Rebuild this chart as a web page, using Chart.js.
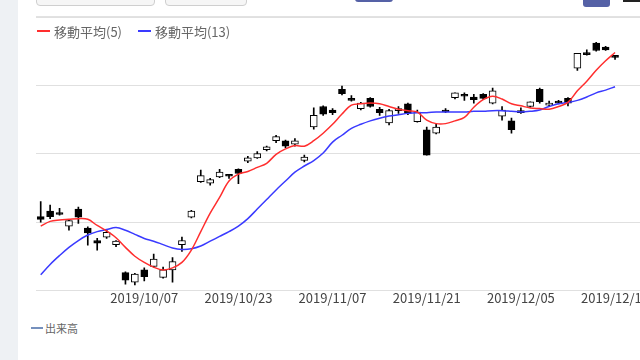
<!DOCTYPE html>
<html lang="ja">
<head>
<meta charset="utf-8">
<script src="https://cdn.jsdelivr.net/npm/chart.js@4.4.1/dist/chart.umd.min.js"></script>
<style>
  html, body { margin: 0; padding: 0; width: 640px; height: 360px; overflow: hidden; background: #fff;
               font-family: "Noto Sans CJK JP", "Noto Sans", sans-serif; }
  .side { position: absolute; left: 0; top: 0; width: 18px; height: 360px; background: #eef1f4; }
  .btn { position: absolute; top: -20px; height: 24px; border: 1px solid #cfcfcf; border-radius: 4px; background: #f6f6f6; }
  .btn-blue { position: absolute; top: -10px; border-radius: 3px; background: #5561a6; }
  .topline { position: absolute; left: 36px; top: 16px; width: 604px; height: 1px; background: #e2e2e2; }
  #wrap { position: absolute; left: 0; top: 0; width: 680px; height: 309px; }
  .legend { position: absolute; top: 20px; left: 37px; font-size: 13px; color: #666; white-space: nowrap; }
  .legend span { display: inline-block; vertical-align: middle; }
  .sw { width: 13px; height: 2px; margin-right: 4px; }
  .legend2 { position: absolute; top: 318px; left: 31px; font-size: 11px; color: #666; white-space: nowrap; }
  .legend2 span { display: inline-block; vertical-align: middle; }
</style>
</head>
<body>
<div class="side"></div>
<div class="btn" style="left:36px;width:117px"></div>
<div class="btn" style="left:165px;width:80px"></div>
<div class="btn-blue" style="left:355px;width:38px;height:12px"></div>
<div class="btn-blue" style="left:583px;width:27px;height:17px"></div>
<div style="position:absolute;left:623px;top:0;width:17px;height:2px;background:#222"></div>
<div class="topline"></div>
<div id="wrap"><canvas id="chart" width="680" height="309"></canvas></div>
<div class="legend">
  <span class="sw" style="background:#ff2e2e"></span><span>移動平均(5)</span>
  <span class="sw" style="background:#3a3aff;margin-left:13px"></span><span>移動平均(13)</span>
</div>
<div class="legend2"><span class="sw" style="background:#7590bd;width:12px;margin-right:2px"></span><span>出来高</span></div>
<script>
// trading days shown on the chart
const dates = [
  '2019/09/19','2019/09/20','2019/09/24','2019/09/25','2019/09/26','2019/09/27','2019/09/30',
  '2019/10/01','2019/10/02','2019/10/03','2019/10/04','2019/10/07','2019/10/08','2019/10/09',
  '2019/10/10','2019/10/11','2019/10/15','2019/10/16','2019/10/17','2019/10/18','2019/10/21',
  '2019/10/23','2019/10/24','2019/10/25','2019/10/28','2019/10/29','2019/10/30','2019/10/31',
  '2019/11/01','2019/11/05','2019/11/06','2019/11/07','2019/11/08','2019/11/11','2019/11/12',
  '2019/11/13','2019/11/14','2019/11/15','2019/11/18','2019/11/19','2019/11/20','2019/11/21',
  '2019/11/22','2019/11/25','2019/11/26','2019/11/27','2019/11/28','2019/11/29','2019/12/02',
  '2019/12/03','2019/12/04','2019/12/05','2019/12/06','2019/12/09','2019/12/10','2019/12/11',
  '2019/12/12','2019/12/13','2019/12/16','2019/12/17','2019/12/18','2019/12/19'
];
// dates written under the axis
const tickLabels = ['2019/10/07','2019/10/23','2019/11/07','2019/11/21','2019/12/05','2019/12/19'];

// OHLC
const opens  = [1108,1116,1111,1094,1119,1091,1073,1078,1067,1026,1012,1030,1035,1019,1030,1067,1107,1159,1157,1166,1167,
                1177,1189,1194,1206,1219,1219,1214,1190,1239,1269,1264,1294,1278,1266,1281,1265,1245,1263,1273,1247,
                1235,1230,1264,1282,1284,1283,1287,1274,1255,1248,1263,1269,1294,1271,1277,1281,1325,1345,1362,1356,1341];
const highs  = [1130,1125,1120,1103,1122,1093,1076,1089,1073,1027,1025,1033,1053,1034,1048,1078,1117,1176,1164,1177,1170,
                1178,1196,1203,1211,1227,1220,1222,1198,1267,1270,1266,1299,1285,1275,1282,1268,1265,1269,1274,1264,
                1239,1243,1266,1289,1289,1287,1288,1296,1269,1252,1267,1276,1296,1277,1278,1282,1347,1352,1363,1357,1343];
const lows   = [1100,1105,1110,1088,1098,1066,1059,1076,1064,1009,1008,1014,1034,1018,1012,1057,1106,1158,1154,1165,1164,
                1156,1187,1193,1204,1216,1209,1211,1188,1236,1256,1257,1286,1277,1264,1268,1256,1242,1259,1257,1246,
                1198,1229,1260,1280,1278,1274,1279,1273,1249,1230,1259,1268,1274,1269,1273,1270,1322,1344,1350,1351,1338];
const closes = [1104,1108,1111,1102,1107,1084,1069,1085,1072,1015,1024,1020,1046,1030,1042,1073,1116,1168,1162,1173,1167,
                1171,1194,1200,1210,1225,1211,1219,1195,1256,1258,1260,1288,1278,1274,1269,1260,1263,1266,1259,1261,
                1198,1239,1261,1289,1284,1279,1281,1292,1264,1235,1260,1276,1276,1274,1274,1274,1347,1345,1351,1352,1341];

// moving averages
const ma5  = [1094,1101,1103,1104,1105,1104,1095,1087,1077,1063,1050,1041,1034,1030,1033,1041,1059,1086,1113,1136,1160,
              1170,1174,1180,1186,1199,1207,1212,1211,1219,1230,1243,1258,1271,1273,1274,1273,1269,1265,1263,1261,
              1249,1244,1244,1248,1253,1268,1279,1284,1280,1273,1270,1267,1266,1265,1269,1275,1292,1306,1322,1336,1348];
const ma13 = [1023,1038,1051,1063,1073,1081,1086,1089,1092,1088,1082,1076,1072,1067,1062,1060,1061,1065,1072,1079,1086,
              1094,1105,1119,1133,1147,1160,1173,1182,1190,1201,1217,1227,1237,1243,1248,1252,1255,1257,1259,1260,
              1260,1261,1261,1261,1261,1262,1262,1263,1263,1262,1261,1262,1264,1269,1273,1275,1278,1283,1289,1293,1298];

const tickIdx = tickLabels.map(d => dates.indexOf(d));
const isUp = i => closes[i] > opens[i];

const ctx = document.getElementById('chart').getContext('2d');
new Chart(ctx, {
  data: {
    datasets: [
      {
        type: 'line', label: '移動平均(5)', order: 0,
        data: ma5.map((v, i) => ({ x: i, y: v })),
        borderColor: '#ff2e2e', borderWidth: 1.5, pointRadius: 0, tension: 0.35
      },
      {
        type: 'line', label: '移動平均(13)', order: 0,
        data: ma13.map((v, i) => ({ x: i, y: v })),
        borderColor: '#3a3aff', borderWidth: 1.5, pointRadius: 0, tension: 0.35
      },
      {
        // candle bodies
        type: 'bar', label: 'body', order: 1, grouped: false,
        data: opens.map((o, i) => ({ x: i, y: [o, closes[i]] })),
        backgroundColor: c => isUp(c.dataIndex) ? '#ffffff' : '#000000',
        borderColor: '#000', borderWidth: 1, borderSkipped: false,
        barThickness: 7, minBarLength: 2
      },
      {
        // wicks
        type: 'bar', label: 'wick', order: 2, grouped: false,
        data: lows.map((l, i) => ({ x: i, y: [l, highs[i]] })),
        backgroundColor: '#000', barThickness: 1
      }
    ]
  },
  options: {
    responsive: false,
    animation: false,
    layout: { padding: { left: 36, top: 17, right: 0, bottom: 3 } },
    plugins: { legend: { display: false }, tooltip: { enabled: false } },
    scales: {
      x: {
        type: 'linear', min: -0.5, max: 67.9, offset: false,
        afterBuildTicks: axis => { axis.ticks = tickIdx.map(v => ({ value: v })); },
        ticks: {
          autoSkip: false, maxRotation: 0, padding: 0,
          color: '#444', font: { size: 13, family: '"Noto Sans CJK JP", "Noto Sans", sans-serif' },
          callback: v => dates[v]
        },
        grid: { display: false, drawTicks: false, tickLength: 0 },
        border: { display: false }
      },
      y: {
        min: 1000, max: 1400,
        ticks: { display: false, stepSize: 100 },
        grid: { color: '#e0e0e0', drawTicks: false },
        border: { display: false }
      }
    }
  }
});
</script>
</body>
</html>
